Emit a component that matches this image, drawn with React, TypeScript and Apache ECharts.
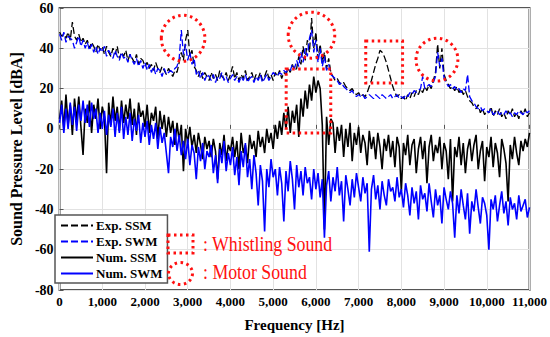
import React, { useEffect, useRef } from "react";
import * as echarts from "echarts";

// Frequency grid (Hz), 50 Hz step from 0 to 11000
const FREQ_STEP = 50;
const frequencies: number[] = Array.from({ length: 221 }, (_, i) => i * FREQ_STEP);

const expSSM: number[] = [
  48, 46, 47, 45, 48, 44, 53, 46, 44, 47, 43,
  45, 42, 44, 40, 43, 41, 38, 42, 39, 41,
  37, 41, 38, 36, 40, 37, 41, 35, 38, 36,
  39, 34, 37, 35, 33, 37, 32, 35, 34, 31,
  33, 30, 32, 29, 33, 30, 28, 31, 29, 27,
  30, 28, 26, 29, 28, 33, 38, 34, 44, 49,
  36, 39, 31, 29, 26, 29, 25, 28, 26, 24,
  28, 25, 27, 24, 29, 26, 25, 28, 24, 27,
  31, 25, 28, 24, 27, 25, 29, 24, 26, 28,
  24, 27, 25, 28, 24, 26, 29, 25, 27, 24,
  28, 26, 29, 25, 28, 27, 30, 28, 32, 29,
  30, 36, 32, 41, 34, 44, 38, 55, 40, 48,
  35, 42, 33, 38, 30, 35, 28, 26, 24, 25,
  23, 22, 23, 21, 20, 19, 20, 18, 17, 18,
  16, 17, 16, 18, 21, 24, 28, 32, 35, 39,
  38, 36, 33, 29, 25, 21, 18, 16, 17, 15,
  16, 14, 17, 15, 18, 16, 19, 17, 20, 18,
  21, 19, 22, 20, 24, 28, 42, 30, 40, 27,
  24, 22, 20, 21, 19, 21, 18, 20, 17, 19,
  16, 14, 13, 11, 10, 12, 8, 10, 7, 9,
  8, 11, 6, 9, 7, 10, 6, 8, 5, 9,
  7, 10, 6, 8, 5, 9, 7, 10, 6, 8,
];

const expSWM: number[] = [
  47, 44, 48, 43, 46, 45, 44, 40, 43, 46, 41,
  44, 40, 43, 39, 42, 38, 41, 37, 40, 38,
  41, 36, 39, 37, 35, 39, 36, 34, 38, 35,
  36, 33, 37, 34, 32, 35, 31, 34, 30, 33,
  29, 32, 28, 31, 27, 30, 29, 26, 30, 27,
  28, 29, 28, 30, 31, 35, 49, 37, 42, 34,
  38, 32, 35, 27, 29, 25, 28, 24, 27, 26,
  24, 27, 23, 26, 25, 28, 24, 26, 23, 25,
  27, 24, 26, 23, 26, 24, 27, 23, 25, 26,
  23, 26, 24, 27, 23, 25, 27, 24, 26, 28,
  27, 26, 28, 27, 29, 28, 30, 29, 32, 30,
  34, 31, 38, 33, 40, 36, 45, 49, 38, 44,
  33, 40, 31, 36, 29, 32, 27, 26, 25, 24,
  22, 23, 21, 20, 19, 18, 19, 17, 16, 17,
  16, 17, 15, 16, 17, 16, 15, 17, 16, 15,
  17, 16, 15, 16, 17, 15, 16, 17, 15, 16,
  15, 17, 16, 18, 17, 19, 18, 19, 20, 26,
  20, 21, 22, 21, 23, 26, 38, 31, 35, 25,
  23, 21, 22, 20, 21, 19, 20, 18, 20, 19,
  27, 16, 14, 13, 11, 10, 11, 9, 10, 9,
  8, 10, 7, 8, 9, 7, 8, 7, 9, 7,
  8, 6, 8, 7, 9, 8, 7, 9, 8, 9,
];

const numSSM: number[] = [
  5, 14, 0, 17, 2, 12, -3, 15, 4, 16, 1,
  -13, 10, 3, 14, -2, 12, 5, 15, 0, 11,
  6, -22, 13, 2, 16, 4, 11, -1, 14, 3,
  12, 5, 15, 2, 10, -3, 13, 6, 9, 1,
  12, -2, 8, 4, 11, -5, 9, 0, 7, -4,
  6, -2, 4, -8, 3, -6, 2, -21, 0, -7,
  1, -9, -3, -12, -2, -8, -15, -4, -10, -6,
  -14, -5, -11, -25, -7, -13, -3, -16, -8, -11,
  -4, -14, -6, -20, -2, -12, -8, -17, -3, -10,
  -6, -14, -1, -9, -4, -12, 0, -7, -2, -10,
  2, -5, 4, -3, 8, 0, 11, -2, 9, 3,
  12, -4, 15, 6, 19, 10, 22, 14, 26, 18,
  24, 20, 2, -50, 6, -8, 5, 3, -12, 1,
  -6, 2, -14, 0, -9, 3, -16, -2, -8, 1,
  -12, -3, -7, -18, -1, -10, -4, -15, -2, -9,
  -20, -5, -11, -3, -14, -6, -19, -4, -9, -31,
  -7, -13, -3, -18, -8, -5, -22, -10, -4, -15,
  -6, -27, -9, -3, -16, -8, -12, -4, -20, -7,
  -11, -25, -5, -36, -9, -14, -4, -18, -7, -22,
  -10, -5, -16, -8, -3, -20, -11, -6, -26, -9,
  -14, -4, -19, -7, -12, -24, -5, -10, -17, -36,
  -8, -15, -4, -12, -18, -6, -11, -5, -9, -2,
];

const numSWM: number[] = [
  3, 12, -2, 10, 0, 13, 2, 11, -1, 12, 4,
  14, 3, 12, 1, 13, 5, 10, -2, 8, 0,
  9, -3, 7, 1, 10, -4, 8, -2, 11, -5,
  6, -3, 8, -6, 5, -1, 7, -7, 3, -4,
  4, -8, 2, -5, 3, -10, 1, -7, -2, -12,
  -22, -4, -9, 0, -11, -3, -13, -6, -15, -5,
  -18, -8, -12, -25, -9, -16, -7, -20, -11, -14,
  -8, -22, -13, -27, -10, -17, -6, -21, -12, -18,
  -9, -23, -14, -28, -11, -19, -7, -24, -15, -30,
  -13, -22, -38, -18, -26, -51, -20, -29, -15, -24,
  -20, -33, -19, -27, -46, -21, -31, -16, -25, -40,
  -18, -29, -21, -33, -19, -27, -24, -35, -20, -30,
  -22, -34, -25, -54, -28, -21, -36, -24, -31, -19,
  -33, -26, -46, -23, -30, -38, -25, -34, -22, -29,
  -36, -24, -32, -27, -61, -30, -23, -35, -28, -40,
  -26, -33, -38, -25, -31, -29, -36, -24, -34, -30,
  -39, -27, -33, -43, -29, -37, -31, -45, -28, -35,
  -32, -41, -27, -36, -44, -30, -38, -33, -47, -29,
  -35, -40, -31, -37, -54, -33, -42, -30, -38, -45,
  -32, -52, -36, -41, -30, -39, -47, -34, -37, -43,
  -60, -35, -40, -33, -46, -38, -31, -42, -36, -48,
  -34, -40, -37, -45, -33, -41, -38, -35, -44, -39,
];

const seriesNames = ["Exp. SSM", "Exp. SWM", "Num. SSM", "Num. SWM"];

// Annotation regions in data coordinates (Hz, dBA)
const motorCircles = [
  { f: 2892, v: 45, rf: 510, rv: 11.4 },
  { f: 5897, v: 46.5, rf: 545, rv: 11.4 },
  { f: 8834, v: 34.4, rf: 490, rv: 10.6 },
];
const whistleRects = [
  { f0: 7167, f1: 8029, v0: 22.8, v1: 43.6 },
  { f0: 5305, f1: 6348, v0: -2, v1: 29.7 },
];

const FONT = "'Times New Roman', 'Liberation Serif', 'DejaVu Serif', serif";
const RED = "#ff1010";
const DOT_STYLE = { fill: "none", stroke: RED, lineWidth: 3, lineDash: [2.5, 3.5] };

export default function App() {
  const ref = useRef<HTMLDivElement>(null);
  useEffect(() => {
    if (!ref.current) return;
    const chart = echarts.init(ref.current, undefined, { renderer: "svg" });
    const mk = (arr: number[]) => frequencies.map((f, i) => [f, arr[i]]);
    chart.setOption({
      animation: false,
      backgroundColor: "#ffffff",
      grid: {
        left: 47,
        right: 18,
        top: 8,
        bottom: 46,
        show: true,
        borderColor: "#555555",
        borderWidth: 2,
        backgroundColor: "transparent",
      },
      legend: {
        orient: "vertical",
        left: 55,
        top: 215,
        data: seriesNames,
        itemWidth: 32,
        itemHeight: 10,
        itemGap: 3,
        padding: [4, 5, 3, 5],
        borderColor: "#555555",
        borderWidth: 1.5,
        borderRadius: 0,
        backgroundColor: "#ffffff",
        itemStyle: { opacity: 0 },
        textStyle: { fontFamily: FONT, fontWeight: "bold", fontSize: 13, color: "#000", padding: [0, 0, 0, -2] },
      },
      xAxis: {
        type: "value",
        min: 0,
        max: 11000,
        interval: 1000,
        name: "Frequency [Hz]",
        nameLocation: "middle",
        nameGap: 27,
        nameTextStyle: { fontFamily: FONT, fontWeight: "bold", fontSize: 15, color: "#000" },
        axisLine: { show: false },
        axisTick: { show: true, inside: true, length: 4, lineStyle: { color: "#555" } },
        axisLabel: {
          fontFamily: FONT,
          fontWeight: "bold",
          fontSize: 13,
          color: "#000",
          margin: 5,
          formatter: (v: number) => v.toLocaleString("en-US"),
        },
        splitLine: { show: true, lineStyle: { color: "#e2e2e2", width: 1 } },
      },
      yAxis: {
        type: "value",
        min: -80,
        max: 60,
        interval: 20,
        name: "Sound Pressure Level [dBA]",
        nameLocation: "middle",
        nameGap: 33,
        nameTextStyle: { fontFamily: FONT, fontWeight: "bold", fontSize: 16, color: "#000" },
        axisLine: { show: false },
        axisTick: { show: true, inside: true, length: 4, lineStyle: { color: "#555" } },
        axisLabel: { fontFamily: FONT, fontWeight: "bold", fontSize: 14, color: "#000", margin: 6 },
        splitLine: { show: true, lineStyle: { color: "#e2e2e2", width: 1 } },
      },
      series: [
        {
          name: "Exp. SSM",
          type: "line",
          data: mk(expSSM),
          symbol: "none",
          lineStyle: { color: "#000000", width: 1.3, type: [7, 3] },
          itemStyle: { color: "#000000" },
        },
        {
          name: "Exp. SWM",
          type: "line",
          data: mk(expSWM),
          symbol: "none",
          lineStyle: { color: "#0000ff", width: 1.3, type: [7, 3] },
          itemStyle: { color: "#0000ff" },
        },
        {
          name: "Num. SSM",
          type: "line",
          data: mk(numSSM),
          symbol: "none",
          lineStyle: { color: "#000000", width: 1.6 },
          itemStyle: { color: "#000000" },
        },
        {
          name: "Num. SWM",
          type: "line",
          data: mk(numSWM),
          symbol: "none",
          lineStyle: { color: "#0000ff", width: 1.6 },
          itemStyle: { color: "#0000ff" },
        },
      ],
    });

    const px = (f: number, v: number) => chart.convertToPixel({ gridIndex: 0 }, [f, v]) as number[];
    const graphics: any[] = [];
    motorCircles.forEach((c) => {
      const p = px(c.f, c.v);
      const p2 = px(c.f + c.rf, c.v + c.rv);
      graphics.push({
        type: "ellipse",
        shape: { cx: p[0], cy: p[1], rx: Math.abs(p2[0] - p[0]), ry: Math.abs(p[1] - p2[1]) },
        style: DOT_STYLE,
        z: 100,
      });
    });
    whistleRects.forEach((r) => {
      const a = px(r.f0, r.v1);
      const b = px(r.f1, r.v0);
      graphics.push({
        type: "rect",
        shape: { x: a[0], y: a[1], width: b[0] - a[0], height: b[1] - a[1] },
        style: DOT_STYLE,
        z: 100,
      });
    });
    // key for annotations
    graphics.push(
      { type: "rect", shape: { x: 168, y: 235, width: 25, height: 18 }, style: DOT_STYLE, z: 100 },
      { type: "ellipse", shape: { cx: 180.5, cy: 273.5, rx: 12, ry: 11 }, style: DOT_STYLE, z: 100 },
      {
        type: "text",
        x: 203,
        y: 244,
        scaleX: 0.89,
        style: {
          text: ": Whistling Sound",
          fill: RED,
          fontSize: 20,
          fontFamily: FONT,
          verticalAlign: "middle",
        },
        z: 100,
      },
      {
        type: "text",
        x: 203,
        y: 272,
        scaleX: 0.89,
        style: {
          text: ": Motor Sound",
          fill: RED,
          fontSize: 20,
          fontFamily: FONT,
          verticalAlign: "middle",
        },
        z: 100,
      }
    );
    chart.setOption({ graphic: graphics });

    return () => chart.dispose();
  }, []);
  return (
    <div
      ref={ref}
      style={{ position: "fixed", left: 0, top: 0, width: 550, height: 337, background: "#fff" }}
    />
  );
}
